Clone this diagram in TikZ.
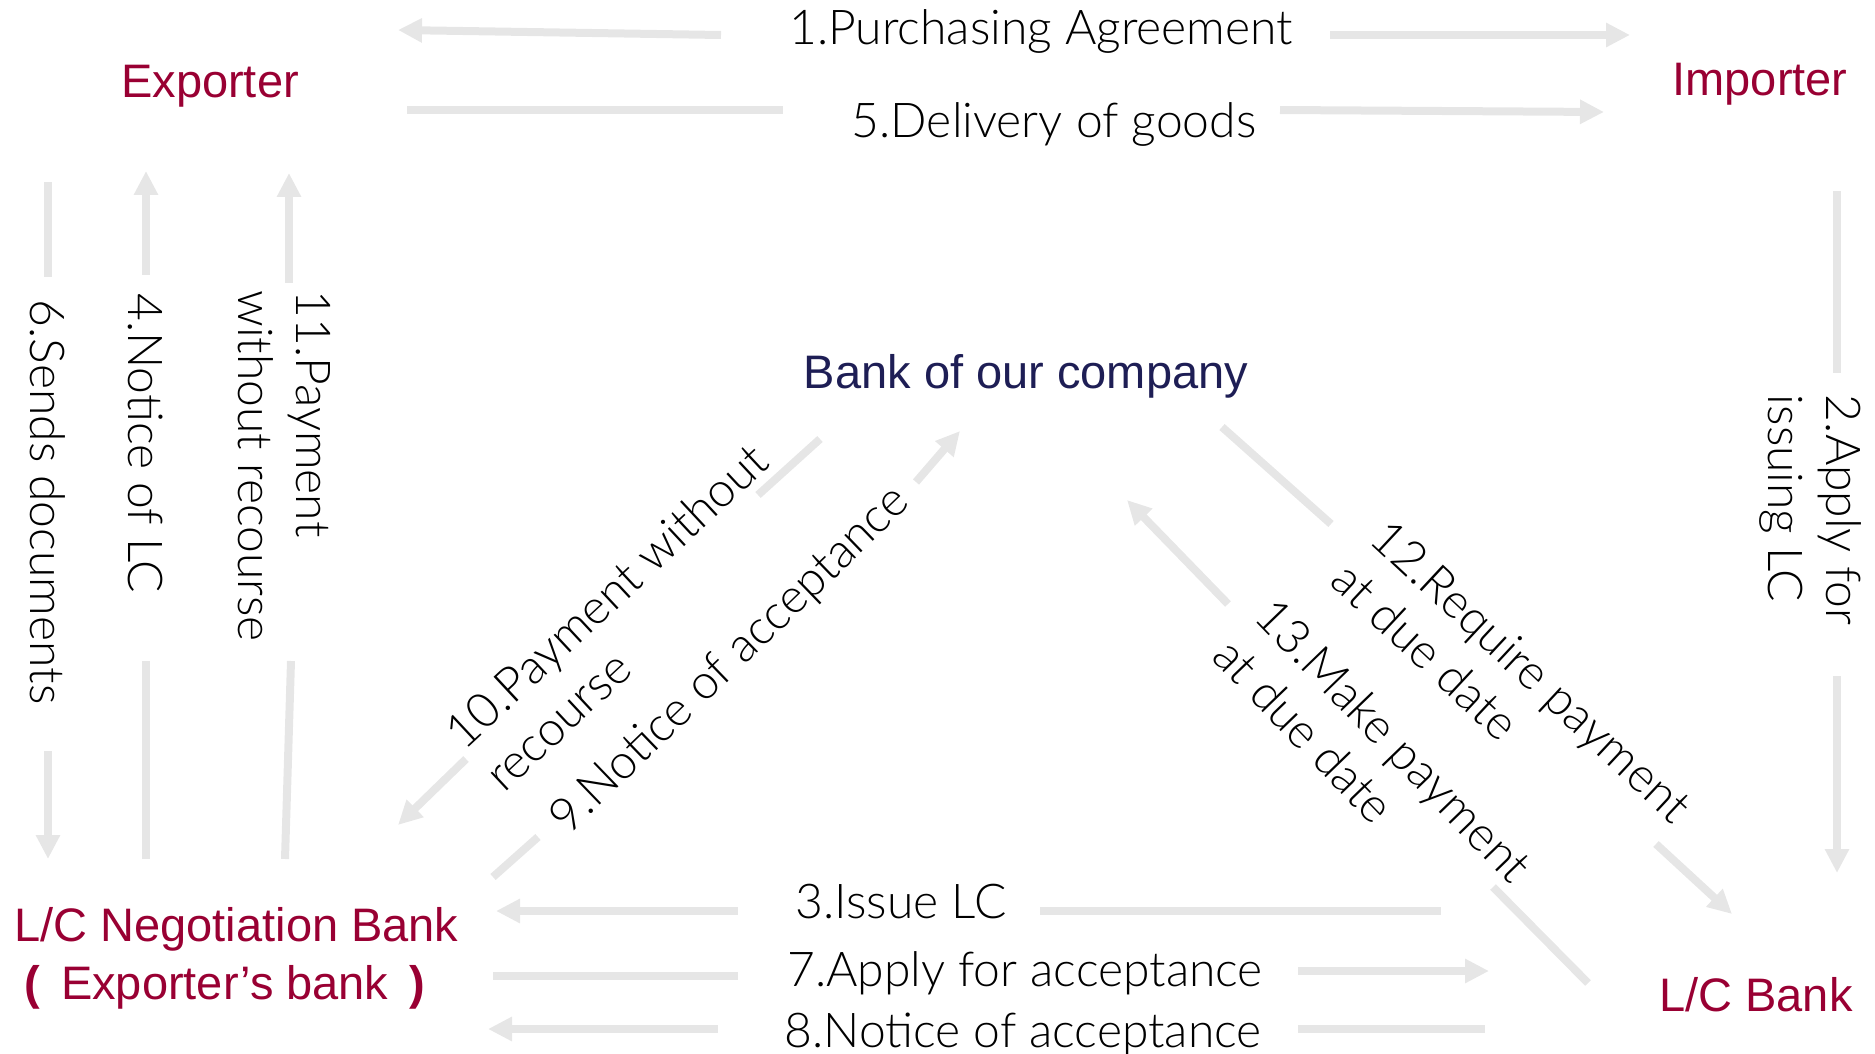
\documentclass[tikz,border=0pt]{standalone}
\usepackage{fontspec}
\setmainfont{Liberation Sans}
\newfontfamily\thinfont{Lato Light}
\usetikzlibrary{arrows.meta}
\definecolor{arrgray}{RGB}{230,230,230}
\definecolor{partyred}{RGB}{153,0,51}
\definecolor{banknavy}{RGB}{30,30,85}
\tikzset{
  arr/.style={draw=arrgray, line width=4pt, -{Triangle[length=12pt,width=11.5pt]}},
  bar/.style={draw=arrgray, line width=4pt},
  party/.style={text=partyred, font=\fontsize{23.5}{29}\selectfont, inner sep=0pt},
  lbl/.style={font=\thinfont\fontsize{24}{29}\selectfont, inner sep=0pt, align=left}
}
\begin{document}
\begin{tikzpicture}[x=0.5pt, y=-0.5pt]
\useasboundingbox (0,0) rectangle (1875,1054);

\node[party, anchor=base] (exporter) at (210,98) {Exporter};
\node[party, anchor=base] (importer) at (1760,96) {Importer};
\node[party, text=banknavy, anchor=base] (ourbank) at (1026,388) {Bank of our company};
\node[party, anchor=base west, align=left] (negbank) at (14,999) {L/C Negotiation Bank\\\hspace*{5pt}{\bfseries (}\hspace{4pt} Exporter’s bank\hspace{4pt} {\bfseries )}};
\node[party, anchor=base] (lcbank) at (1756,1011) {L/C Bank};

\node[lbl, anchor=base] (l1) at (1041,45) {1.Purchasing Agreement};
\node[lbl, anchor=base] (l5) at (1054,138) {5.Delivery of goods};
\node[lbl, anchor=base] (l3) at (901,918) {3.Issue LC};
\node[lbl, anchor=base] (l7) at (1025,986) {7.Apply for acceptance};
\node[lbl, anchor=base] (l8) at (1023,1047) {8.Notice of acceptance};
\node[lbl, rotate=-90] (l6) at (48,502) {6.Sends documents};
\node[lbl, rotate=-90] (l4) at (146,443) {4.Notice of LC};
\node[lbl, rotate=-90] (l11) at (284,466) {11.Payment\\without recourse};
\node[lbl, rotate=-90] (l2) at (1810,510) {2.Apply for\\issuing LC};
\node[lbl, rotate=43] (l10) at (626,617) {10.Payment without\\recourse};
\node[lbl, rotate=44] (l9) at (731,661) {9.Notice of acceptance};
\node[lbl, rotate=-43] (l12) at (1512,692) {12.Require payment\\at due date};
\node[lbl, rotate=-46] (l13) at (1373,760) {13.Make payment\\at due date};

\foreach \xa/\ya/\xb/\yb in {721/35/398/30, 1330/35/1630/35, 1280/110/1604/112,
    48/751/48/859, 146/275/146/171, 289/283/289/173, 1837/676/1837/873,
    738/911/496/911, 1298/971/1489/971, 718/1029/488/1029,
    466/759/398/825, 916/482/960/431, 1656/844/1732/914, 1228/604/1127/500}
  \draw[arr] (\xa,\ya) -- (\xb,\yb);

\foreach \xa/\ya/\xb/\yb in {407/110/783/110, 48/182/48/277, 146/661/146/859,
    291/661/285/859, 1837/191/1837/373, 1040/911/1441/911, 493/976/738/976,
    1298/1029/1485/1029, 820/439/758/495, 538/837/493/877,
    1222/427/1331/524, 1493/887/1588/983}
  \draw[bar] (\xa,\ya) -- (\xb,\yb);
\end{tikzpicture}
\end{document}
